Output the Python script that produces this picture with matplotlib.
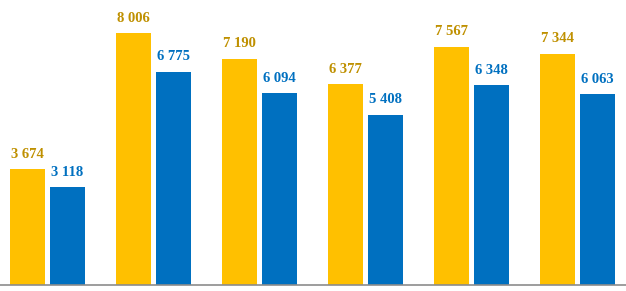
import matplotlib
matplotlib.use("Agg")
import matplotlib.pyplot as plt
import numpy as np

groups = ["1", "2", "3", "4", "5", "6"]
series_a = [3674, 8006, 7190, 6377, 7567, 7344]
series_b = [3118, 6775, 6094, 5408, 6348, 6063]

bar_color_a = "#FFC000"
bar_color_b = "#0070C0"
text_color_a = "#BF9000"
text_color_b = "#0070C0"


def fmt(value):
    return f"{value:,}".replace(",", " ")


fig = plt.figure(figsize=(6.26, 2.91), dpi=100)
ax = fig.add_axes([0, 0.02, 1, 0.98])

x = np.arange(len(groups))
width = 0.33
offset = 0.189

bars_a = ax.bar(x - offset, series_a, width, color=bar_color_a)
bars_b = ax.bar(x + offset, series_b, width, color=bar_color_b)

for bar, value in zip(bars_a, series_a):
    ax.annotate(fmt(value), (bar.get_x() + bar.get_width() / 2, value),
                xytext=(0, 6), textcoords="offset points", ha="center", va="bottom",
                fontsize=10.5, fontweight="bold", family="Liberation Serif", color=text_color_a)

for bar, value in zip(bars_b, series_b):
    ax.annotate(fmt(value), (bar.get_x() + bar.get_width() / 2, value),
                xytext=(0, 6), textcoords="offset points", ha="center", va="bottom",
                fontsize=10.5, fontweight="bold", family="Liberation Serif", color=text_color_b)

ax.set_xlim(-0.448, 5.458)
ax.set_ylim(0, 9050)
for side in ["top", "left", "right"]:
    ax.spines[side].set_visible(False)
ax.spines["bottom"].set_color("#8c8c8c")
ax.spines["bottom"].set_linewidth(1.2)
ax.set_xticks([])
ax.set_yticks([])

fig.savefig("out.png", dpi=100)
